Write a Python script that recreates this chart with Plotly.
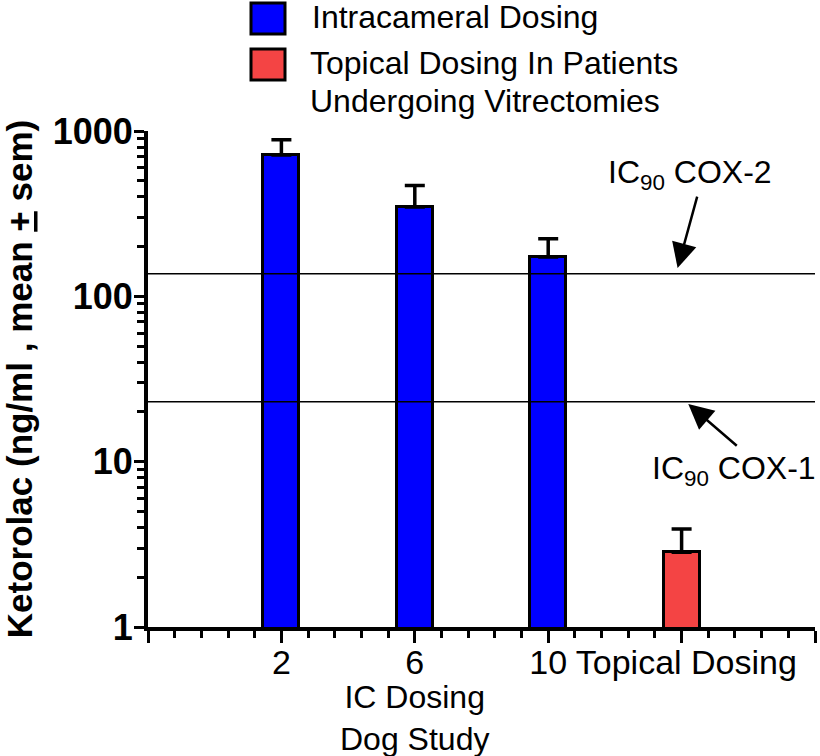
import plotly.graph_objects as go

# ---- data ----
categories = ["2", "6", "10", "&nbsp;Topical Dosing"]
ic_x = [1, 2, 3]
ic_means = [716, 347, 173]
ic_sem = [168, 121, 50]
top_x = [4]
top_means = [2.83]
top_sem = [1.09]
cox2_ic90 = 137
cox1_ic90 = 23
legend_names = ["Intracameral Dosing", "Topical Dosing In Patients", "Undergoing Vitrectomies"]
y_tickvals = [1, 10, 100, 1000]
y_ticktext = ["1", "10", "100", "1000"]
y_minor = [m * d for d in (1, 10, 100) for m in range(2, 10)]

FONT = "Liberation Sans, Arial, sans-serif"
BLUE = "#0000FF"
RED = "#F44444"

# plot area geometry (pixels) used for placing decorations
L, R, T, B = 148, 815, 131, 627
W, H = R - L, B - T


def px(xp):
    return (xp - L) / W


def py(yp):
    return (B - yp) / H


fig = go.Figure()

fig.add_trace(go.Bar(
    x=ic_x, y=ic_means, width=0.27, name=legend_names[0], showlegend=False,
    marker=dict(color=BLUE, line=dict(color="black", width=3)),
    error_y=dict(type="data", symmetric=False, array=ic_sem, arrayminus=[0] * len(ic_sem),
                 color="black", thickness=3.5, width=10),
))
fig.add_trace(go.Bar(
    x=top_x, y=top_means, width=0.27, name=legend_names[1], showlegend=False,
    marker=dict(color=RED, line=dict(color="black", width=3)),
    error_y=dict(type="data", symmetric=False, array=top_sem, arrayminus=[0],
                 color="black", thickness=3.5, width=10),
))

for val in (cox2_ic90, cox1_ic90):
    fig.add_trace(go.Scatter(x=[0, 5], y=[val, val], mode="lines", showlegend=False,
                             line=dict(color="black", width=1.5), hoverinfo="skip"))

ann = []
# arrows
ann.append(dict(x=3.97, y=2.171, xref="x", yref="y", text="", showarrow=True,
                ax=20, ay=-73, arrowhead=2, arrowsize=2.0, arrowwidth=2.5, arrowcolor="black"))
ann.append(dict(x=4.05, y=1.349, xref="x", yref="y", text="", showarrow=True,
                ax=50, ay=43, arrowhead=2, arrowsize=2.0, arrowwidth=2.5, arrowcolor="black"))
# arrow labels
ann.append(dict(x=px(690), y=py(174), xref="paper", yref="paper", text="IC<sub>90</sub> COX-2",
                showarrow=False, xanchor="center", yanchor="middle",
                font=dict(family=FONT, size=32, color="black")))
ann.append(dict(x=px(818), y=py(470), xref="paper", yref="paper", text="IC<sub>90</sub> COX-1",
                showarrow=False, xanchor="right", yanchor="middle",
                font=dict(family=FONT, size=32, color="black")))
# group label under the IC bars
ann.append(dict(x=2, y=py(677), xref="x", yref="paper", text="IC Dosing<br>Dog Study",
                showarrow=False, xanchor="center", yanchor="top", align="center",
                font=dict(family=FONT, size=32, color="black")))
# legend texts
ann.append(dict(x=px(310), y=py(17), xref="paper", yref="paper", text=legend_names[0],
                showarrow=False, xanchor="left", yanchor="middle",
                font=dict(family=FONT, size=32, color="black")))
ann.append(dict(x=px(308), y=py(63), xref="paper", yref="paper", text=legend_names[1],
                showarrow=False, xanchor="left", yanchor="middle",
                font=dict(family=FONT, size=32, color="black")))
ann.append(dict(x=px(308), y=py(101), xref="paper", yref="paper", text=legend_names[2],
                showarrow=False, xanchor="left", yanchor="middle",
                font=dict(family=FONT, size=32, color="black")))

shapes = [
    dict(type="rect", xref="paper", yref="paper", x0=px(251), x1=px(285), y0=py(34), y1=py(3),
         fillcolor=BLUE, line=dict(color="black", width=3)),
    dict(type="rect", xref="paper", yref="paper", x0=px(251), x1=px(285), y0=py(80), y1=py(49),
         fillcolor=RED, line=dict(color="black", width=3)),
]

fig.update_layout(
    width=820, height=756,
    margin=dict(l=L, r=820 - R, t=T, b=756 - B),
    plot_bgcolor="white", paper_bgcolor="white",
    annotations=ann, shapes=shapes, bargap=0,
    font=dict(family=FONT, color="black"),
)

fig.update_xaxes(
    range=[0, 5], showgrid=False, zeroline=False,
    showline=True, linecolor="black", linewidth=4,
    ticks="outside", ticklen=12, tickwidth=3, tickcolor="black",
    tickvals=[0, 1, 2, 3, 4, 5], ticktext=[""] + categories + [""],
    tickfont=dict(family=FONT, size=34, color="black"),
    tickangle=0, ticklabelstandoff=-10,
    minor=dict(dtick=0.2, tick0=0, ticks="outside", ticklen=7, tickwidth=3, tickcolor="black", showgrid=False),
)

fig.update_yaxes(
    type="log", range=[0, 3], showgrid=False, zeroline=False,
    showline=True, linecolor="black", linewidth=4,
    ticks="outside", ticklen=10, tickwidth=3, tickcolor="black",
    tickmode="array", tickvals=y_tickvals, ticktext=y_ticktext,
    tickfont=dict(family=FONT, size=36, color="black", weight="bold"),
    ticklabelstandoff=-6,
    minor=dict(tickmode="array", tickvals=y_minor, ticks="outside", ticklen=7, tickwidth=3,
               tickcolor="black", showgrid=False),
    title=dict(text="Ketorolac (ng/ml , mean <u>+</u> sem)", standoff=12,
               font=dict(family=FONT, size=35, color="black", weight="bold")),
)

fig.write_html("out.html", config={"displayModeBar": False},
               post_script="document.body.style.margin='0';")
